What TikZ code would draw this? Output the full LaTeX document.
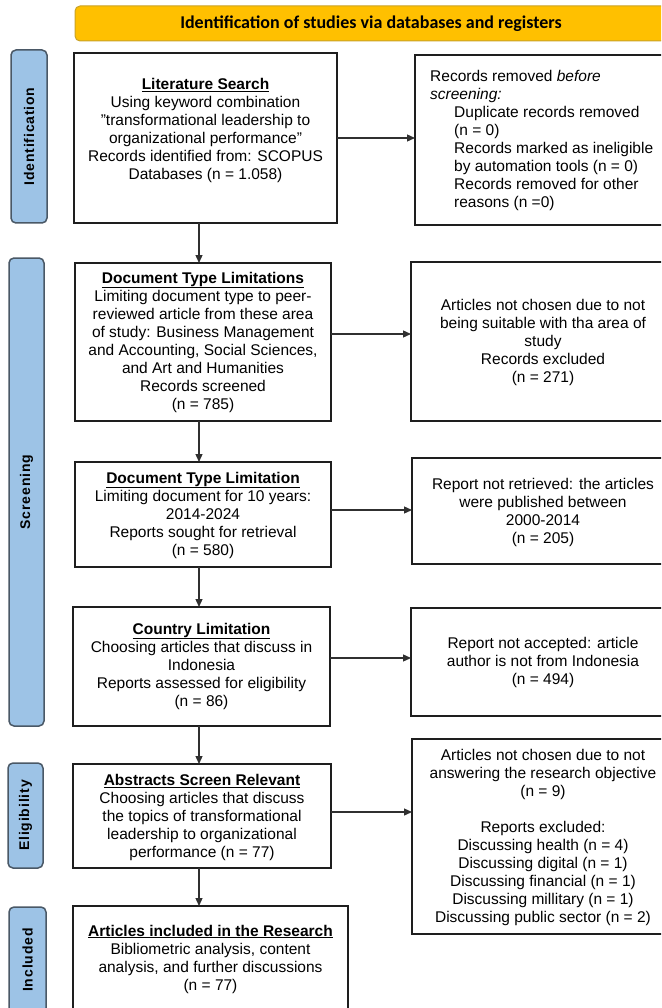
\documentclass[tikz,border=0pt]{standalone}
\usepackage{fontspec}
\setmainfont{Liberation Sans}
\newfontfamily\bannerfont{Carlito}
\newfontfamily\lanefont[LetterSpace=6]{Liberation Sans}
\usetikzlibrary{arrows.meta}
\definecolor{bannerfill}{HTML}{FFC000}
\definecolor{bannerline}{HTML}{C9A227}
\definecolor{labfill}{HTML}{9DC3E6}
\definecolor{labline}{HTML}{4A5866}
\definecolor{boxline}{HTML}{1E1E1E}
\definecolor{arrline}{HTML}{303030}
\newcommand{\ttl}[1]{\underline{\textbf{#1}}}
\newcommand{\sq}{\symbol{34}}
\begin{document}
\begin{tikzpicture}[x=1pt,y=-1pt,
  frame/.style={draw=boxline,line width=1.4pt,fill=white,inner sep=0pt,outer sep=0pt},
  lane/.style={draw=labline,line width=1.5pt,fill=labfill,rounded corners=5pt,inner sep=0pt,outer sep=0pt},
  banner/.style={draw=bannerline,line width=1pt,fill=bannerfill,rounded corners=5pt,inner sep=0pt,outer sep=0pt},
  body/.style={font=\fontsize{15.5}{18}\selectfont,align=center,inner sep=0pt,text=black},
  lanetext/.style={font=\lanefont\bfseries\fontsize{14}{16}\selectfont,rotate=90,inner sep=0pt},
  arr/.style={draw=arrline,line width=1.3pt,-{Triangle[length=8pt,width=7pt]}},
]
\useasboundingbox (0,0) rectangle (661,1008);
\clip (0,0) rectangle (661,1008);

% banner
\node[banner,minimum width=610pt,minimum height=35pt] (ban) at (380,23.5) {};
\node[font=\bannerfont\bfseries\fontsize{18}{20}\selectfont,inner sep=0pt] (bant) at (371,24) {Identification of studies via databases and registers};

% lanes
\node[lane,minimum width=36pt,minimum height=173pt] (l1) at (29,136.5) {};
\node[lanetext] (l1t) at (l1.center) {Identification};
\node[lane,minimum width=35pt,minimum height=468pt] (l2) at (26.5,492) {};
\node[lanetext] (l2t) at (l2.center) {Screening};
\node[lane,minimum width=35pt,minimum height=105pt] (l3) at (25.5,815.5) {};
\node[lanetext] (l3t) at (l3.center) {Eligibility};
\node[lane,minimum width=37pt,minimum height=106pt] (l4) at (27.5,960) {};
\node[lanetext] (l4t) at (l4.center) {Included};

% left boxes
\node[frame,minimum width=263pt,minimum height=170pt] (b1) at (205.5,138) {};
\node[frame,minimum width=256pt,minimum height=158pt] (b2) at (203,342) {};
\node[frame,minimum width=256pt,minimum height=105pt] (b3) at (203,514.5) {};
\node[frame,minimum width=257pt,minimum height=119pt] (b4) at (201.5,666.5) {};
\node[frame,minimum width=258pt,minimum height=104pt] (b5) at (202,816) {};
\node[frame,minimum width=275pt,minimum height=107pt] (b6) at (210.5,959.5) {};

% right boxes
\node[frame,minimum width=260pt,minimum height=170pt] (r1) at (545,140) {};
\node[frame,minimum width=264pt,minimum height=159pt] (r2) at (543,341.5) {};
\node[frame,minimum width=263pt,minimum height=106pt] (r3) at (543.5,511) {};
\node[frame,minimum width=264pt,minimum height=108pt] (r4) at (543,662) {};
\node[frame,minimum width=263pt,minimum height=195pt] (r5) at (543.5,836.5) {};

% texts
\node[body] (b1t) at (205.5,130.5) {\ttl{Literature Search}\\Using keyword combination\\\sq transformational leadership to\\organizational performance\sq\\Records identified from: SCOPUS\\Databases (n = 1.058)};
\node[body,align=left,anchor=west] (r1t) at (430,140.5) {Records removed \textit{before}\\\textit{screening:}\\\hspace*{24pt}Duplicate records removed\\\hspace*{24pt}(n = 0)\\\hspace*{24pt}Records marked as ineligible\\\hspace*{24pt}by automation tools (n = 0)\\\hspace*{24pt}Records removed for other\\\hspace*{24pt}reasons (n =0)};
\node[body] (b2t) at (203,342) {\ttl{Document Type Limitations}\\Limiting document type to peer-\\reviewed article from these area\\of study: Business Management\\and Accounting, Social Sciences,\\and Art and Humanities\\Records screened\\(n = 785)};
\node[body] (r2t) at (543,342) {Articles not chosen due to not\\being suitable with tha area of\\study\\Records excluded\\(n = 271)};
\node[body] (b3t) at (203,515) {\ttl{Document Type Limitation}\\Limiting document for 10 years:\\2014-2024\\Reports sought for retrieval\\(n = 580)};
\node[body] (r3t) at (543,512) {Report not retrieved: the articles\\were published between\\2000-2014\\(n = 205)};
\node[body] (b4t) at (201.5,666) {\ttl{Country Limitation}\\Choosing articles that discuss in\\Indonesia\\Reports assessed for eligibility\\(n = 86)};
\node[body] (r4t) at (543,662) {Report not accepted: article\\author is not from Indonesia\\(n = 494)};
\node[body] (b5t) at (202,817.5) {\ttl{Abstracts Screen Relevant}\\Choosing articles that discuss\\the topics of transformational\\leadership to organizational\\performance (n = 77)};
\node[body] (r5t) at (543,837.5) {Articles not chosen due to not\\answering the research objective\\(n = 9)\\[18pt]Reports excluded:\\Discussing health (n = 4)\\Discussing digital (n = 1)\\Discussing financial (n = 1)\\Discussing millitary (n = 1)\\Discussing public sector (n = 2)};
\node[body] (b6t) at (210.5,959) {\ttl{Articles included in the Research}\\Bibliometric analysis, content\\analysis, and further discussions\\(n = 77)};

% connector guides
\coordinate (vx) at (199,0);
\coordinate (h1) at (0,138);
\coordinate (h2) at (0,334);
\coordinate (h3) at (0,510);
\coordinate (h4) at (0,658);
\coordinate (h5) at (0,812);

% vertical arrows
\draw[arr] (b1.south -| vx) -- (b2.north -| vx);
\draw[arr] (b2.south -| vx) -- (b3.north -| vx);
\draw[arr] (b3.south -| vx) -- (b4.north -| vx);
\draw[arr] (b4.south -| vx) -- (b5.north -| vx);
\draw[arr] (b5.south -| vx) -- (b6.north -| vx);

% horizontal arrows
\draw[arr] (b1.east |- h1) -- (r1.west |- h1);
\draw[arr] (b2.east |- h2) -- (r2.west |- h2);
\draw[arr] (b3.east |- h3) -- (r3.west |- h3);
\draw[arr] (b4.east |- h4) -- (r4.west |- h4);
\draw[arr] (b5.east |- h5) -- (r5.west |- h5);
\end{tikzpicture}
\end{document}
